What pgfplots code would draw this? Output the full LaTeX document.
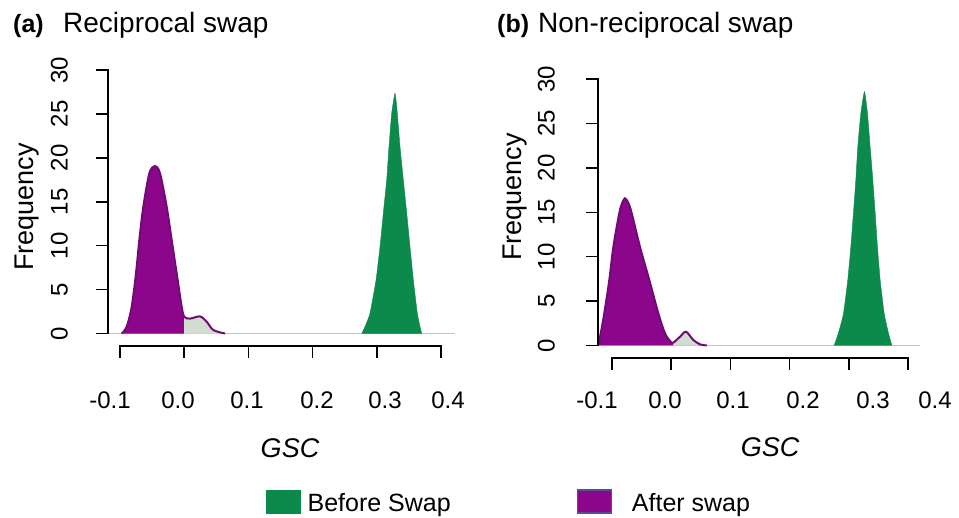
\documentclass[border=0pt]{standalone}
\usepackage{fontspec}
\setmainfont{Liberation Sans}
\usepackage{pgfplots}
\pgfplotsset{compat=1.18}
\definecolor{swgreen}{HTML}{0B8A4C}
\definecolor{swpurple}{HTML}{8B068B}
\definecolor{swline}{HTML}{720A76}
\definecolor{swgray}{HTML}{D2DCD2}
\definecolor{swbase}{HTML}{C4C4C4}
\definecolor{swlegedge}{HTML}{5A4A9E}

\newcommand\tickfont{\fontsize{24}{28}\selectfont}
\newcommand\labfont{\fontsize{27}{31}\selectfont}
\newcommand\legfont{\fontsize{25}{29}\selectfont}
\newcommand\titfont{\fontsize{28}{32}\selectfont}

\pgfplotsset{
  gscaxis/.style={
    scale only axis, clip=false,
    anchor=south west,
    axis x line*=bottom, axis y line*=left,
    axis line style={draw=none},
    tick align=outside, major tick length=12pt,
    tick style={black, line width=1.5pt},
    xtick={-0.1,0,0.1,0.2,0.3,0.4},
    ytick={0,5,10,15,20,25,30},
    xticklabel=\empty, yticklabel=\empty,
  },
}

\begin{document}
\begin{tikzpicture}
\useasboundingbox (0pt,0pt) rectangle (959pt,-518pt);

% ---------------- (a) reciprocal swap ----------------
\begin{axis}[gscaxis,
  at={(108pt,-346pt)}, width=347pt, height=284.7pt,
  xmin=-0.1187, xmax=0.4218, ymin=-1.42, ymax=31,
  legend image code/.code={\draw[#1] (0pt,-10pt) rectangle (34pt,13pt);},
  legend style={at={(0.4553,-0.5461)}, anchor=west, draw=none, fill=none,
    inner sep=0pt, legend columns=2, font=\legfont,
    nodes={inner sep=0pt},
    /tikz/every odd column/.append style={column sep=7pt},
    /tikz/every even column/.append style={column sep=126pt}},
  legend cell align=left,
]
\addlegendimage{fill=swgreen, draw=swgreen}
\addlegendentry{Before Swap}
\addlegendimage{fill=swpurple, draw=swlegedge, line width=1.2pt}
\addlegendentry{\hspace{13pt}After swap}

\addplot[forget plot, swbase, line width=1pt] coordinates {(-0.1187,0) (0.4218,0)};
\addplot[forget plot, fill=swgreen, draw=swgreen, smooth, tension=0.3] coordinates {
  (0.2765,0) (0.2816,0.78) (0.2894,2.3) (0.2988,6.1) (0.3050,9.9) (0.3101,13.7)
  (0.3154,17.5) (0.3190,21.3) (0.3232,25.1) (0.3284,27.36) (0.3319,25.1)
  (0.3361,21.3) (0.3413,17.5) (0.3466,13.7) (0.3517,9.9) (0.3569,6.1)
  (0.3631,2.3) (0.3673,0.78) (0.3699,0)} \closedcycle;
\addplot[forget plot, fill=swpurple, draw=none, smooth] coordinates {
  (-0.0974,0) (-0.0896,0.78) (-0.0818,3.05) (-0.0751,6.85) (-0.0699,10.65)
  (-0.0637,14.44) (-0.0543,18.25) (-0.0455,19.08) (-0.0377,18.25)
  (-0.0273,14.44) (-0.0195,10.65) (-0.0117,6.85) (-0.0039,3.05) (0.0,1.9)} \closedcycle;
\addplot[forget plot, fill=swgray, draw=none, smooth] coordinates {
  (0.0,1.9) (0.0090,1.7) (0.0246,1.95) (0.0350,1.35) (0.0453,0.4) (0.0636,0)} \closedcycle;
\addplot[forget plot, swline, line width=2pt, smooth] coordinates {
  (-0.0974,0) (-0.0896,0.78) (-0.0818,3.05) (-0.0751,6.85) (-0.0699,10.65)
  (-0.0637,14.44) (-0.0543,18.25) (-0.0455,19.08) (-0.0377,18.25)
  (-0.0273,14.44) (-0.0195,10.65) (-0.0117,6.85) (-0.0039,3.05) (0.0,1.9)
  (0.0090,1.7) (0.0246,1.95) (0.0350,1.35) (0.0453,0.4) (0.0636,0)};

\draw[line width=1.5pt, line cap=rect] (axis cs:-0.1,-1.42) -- (axis cs:0.4,-1.42);
\draw[line width=1.5pt, line cap=rect] (axis cs:-0.1187,0) -- (axis cs:-0.1187,30);
\pgfplotsinvokeforeach{0,5,10,15,20,25,30}{
  \node[rotate=90, anchor=south, inner sep=0pt, font=\tickfont]
    at ([xshift=-40pt]axis cs:-0.1187,#1) {#1};
}
\end{axis}

% ---------------- (b) non-reciprocal swap ----------------
\begin{axis}[gscaxis,
  at={(598pt,-358pt)}, width=322pt, height=287.8pt,
  xmin=-0.1236, xmax=0.4200, ymin=-1.41, ymax=31,
]
\addplot[forget plot, swbase, line width=1pt] coordinates {(-0.1236,0) (0.4200,0)};
\addplot[forget plot, fill=swgreen, draw=swgreen, smooth, tension=0.3] coordinates {
  (0.2750,0) (0.2823,1.4) (0.2908,3.6) (0.2981,7.4) (0.3032,11.1) (0.3076,14.9)
  (0.3116,18.6) (0.3150,22.4) (0.3201,26.15) (0.3262,28.58) (0.3313,26.15)
  (0.3358,22.4) (0.3404,18.6) (0.3443,14.9) (0.3482,11.1) (0.3527,7.4)
  (0.3595,3.6) (0.3667,1.4) (0.3725,0)} \closedcycle;
\addplot[forget plot, fill=swpurple, draw=none, smooth] coordinates {
  (-0.1231,0) (-0.1190,1.37) (-0.1130,3.63) (-0.1045,7.38) (-0.0977,11.1)
  (-0.0877,14.9) (-0.0830,16.0) (-0.0780,16.58) (-0.0720,16.0) (-0.0667,14.9)
  (-0.0527,11.1) (-0.0370,7.38) (-0.0218,3.63) (-0.0105,1.37) (-0.0009,0.43)
  (0.0036,0.32)} \closedcycle;
\addplot[forget plot, fill=swgray, draw=none, smooth] coordinates {
  (0.0036,0.32) (0.0149,0.99) (0.0250,1.55) (0.0373,0.62) (0.0486,0.13) (0.0600,0)} \closedcycle;
\addplot[forget plot, swline, line width=2pt, smooth] coordinates {
  (-0.1231,0) (-0.1190,1.37) (-0.1130,3.63) (-0.1045,7.38) (-0.0977,11.1)
  (-0.0877,14.9) (-0.0830,16.0) (-0.0780,16.58) (-0.0720,16.0) (-0.0667,14.9)
  (-0.0527,11.1) (-0.0370,7.38) (-0.0218,3.63) (-0.0105,1.37) (-0.0009,0.43)
  (0.0036,0.32) (0.0149,0.99) (0.0250,1.55) (0.0373,0.62) (0.0486,0.13) (0.0600,0)};

\draw[line width=1.5pt, line cap=rect] (axis cs:-0.1,-1.41) -- (axis cs:0.4,-1.41);
\draw[line width=1.5pt, line cap=rect] (axis cs:-0.1236,0) -- (axis cs:-0.1236,30);
\pgfplotsinvokeforeach{0,5,10,15,20,25,30}{
  \node[rotate=90, anchor=south, inner sep=0pt, font=\tickfont]
    at ([xshift=-43pt]axis cs:-0.1236,#1) {#1};
}
\end{axis}

% ---------------- texts around the panels ----------------
\node[anchor=base west, inner sep=0pt, font=\fontsize{25}{29}\selectfont\bfseries] at (13pt,-33pt) {(a)};
\node[anchor=base west, inner sep=0pt, font=\titfont] at (63pt,-33pt) {Reciprocal swap};
\node[anchor=base west, inner sep=0pt, font=\fontsize{25}{29}\selectfont\bfseries] at (497pt,-33pt) {(b)};
\node[anchor=base west, inner sep=0pt, font=\titfont] at (538pt,-33pt) {Non-reciprocal swap};

\node[rotate=90, inner sep=0pt, font=\labfont] at (27pt,-207pt) {Frequency};
\node[rotate=90, inner sep=0pt, font=\labfont] at (515pt,-197pt) {Frequency};
\node[inner sep=0pt, font=\labfont\itshape] at (290pt,-448pt) {GSC};
\node[inner sep=0pt, font=\labfont\itshape] at (770pt,-447pt) {GSC};

\foreach \px/\lab in {110/-0.1, 178/0.0, 247/0.1, 317/0.2, 385/0.3, 448/0.4}
  \node[inner sep=0pt, font=\tickfont] at (\px pt,-400pt) {\lab};
\foreach \px/\lab in {597/-0.1, 665/0.0, 733/0.1, 803/0.2, 873/0.3, 935/0.4}
  \node[inner sep=0pt, font=\tickfont] at (\px pt,-400pt) {\lab};
\end{tikzpicture}
\end{document}
